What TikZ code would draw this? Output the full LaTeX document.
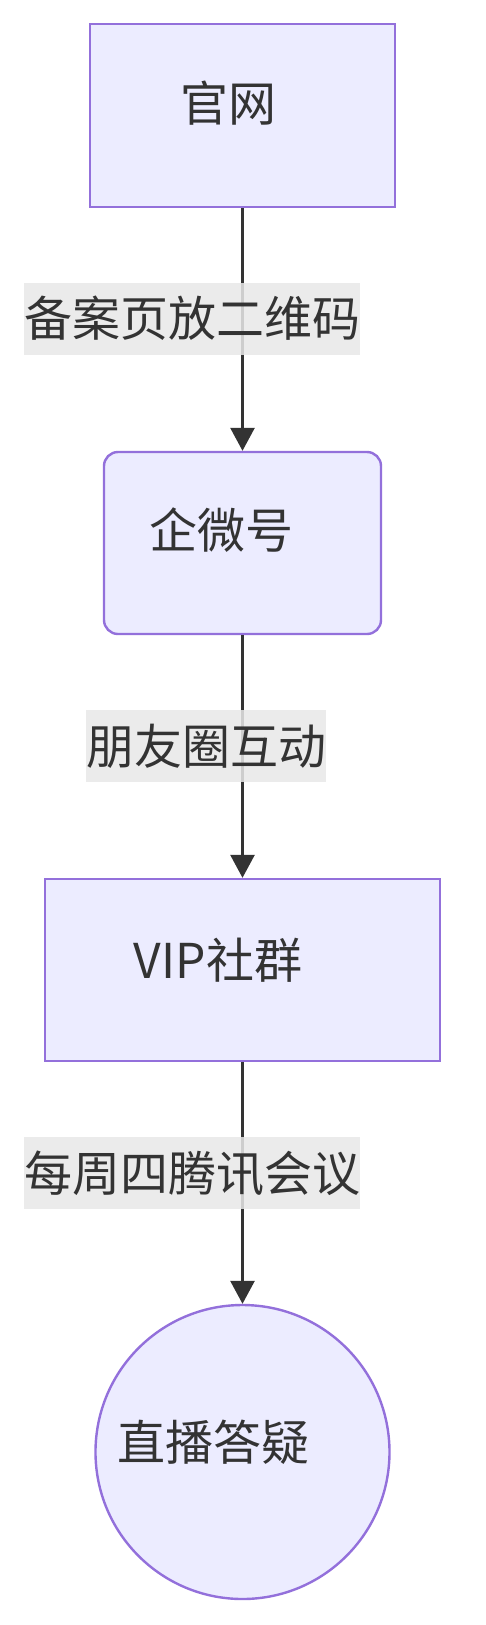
\documentclass[tikz,border=0pt]{standalone}
\usepackage{fontspec}
\setmainfont{Noto Sans CJK SC}
\usetikzlibrary{shapes, calc, arrows.meta}

\definecolor{nodefill}{HTML}{ECECFF}
\definecolor{nodeline}{HTML}{9370DB}
\definecolor{edgeline}{HTML}{333333}
\definecolor{labelfill}{HTML}{E8E8E8}

\begin{document}
\begin{tikzpicture}[x=1pt, y=-1pt]
	\tikzstyle{box}=[rectangle, draw=nodeline, fill=nodefill, line width=2.4pt,
		inner sep=0pt]
	\tikzstyle{txt}=[text=edgeline, inner sep=0pt,
		font=\fontsize{48pt}{72pt}\selectfont]
	\tikzstyle{lbl}=[txt, fill=labelfill, fill opacity=0.85, text opacity=1,
		minimum height=72pt]
	\tikzstyle{flow}=[-{Triangle[length=23pt, width=24pt]}, line width=2.8pt,
		draw=edgeline]

	\useasboundingbox (0,0) rectangle (485,1625);

	\node[box, minimum width=305pt, minimum height=183pt] (site) at (242.5,115.5) {};
	\node[box, rounded corners=14pt, minimum width=277pt, minimum height=182pt]
		(wecom) at (242.5,543) {};
	\node[box, minimum width=395pt, minimum height=182pt] (vip) at (242.5,970) {};
	\node[box, circle, minimum size=294pt] (live) at (242.5,1452) {};

	\node[txt] (sitetext) at (228,103.5) {官网};
	\node[txt] (wecomtext) at (221,530) {企微号};
	\node[txt] (viptext) at (218,960) {VIP社群};
	\node[txt] (livetext) at (213,1442) {直播答疑};

		\draw [flow] (site.south) -- (wecom.north);
		\draw [flow] (wecom.south) -- (vip.north);
		\draw [flow] (vip.south) -- (live.north);

	% edge labels over the lines
	\node[lbl] (qrcode) at (192,318.5) {备案页放二维码};
	\node[lbl] (moments) at (206,746) {朋友圈互动};
	\node[lbl] (meeting) at (192,1173) {每周四腾讯会议};
\end{tikzpicture}
\end{document}
